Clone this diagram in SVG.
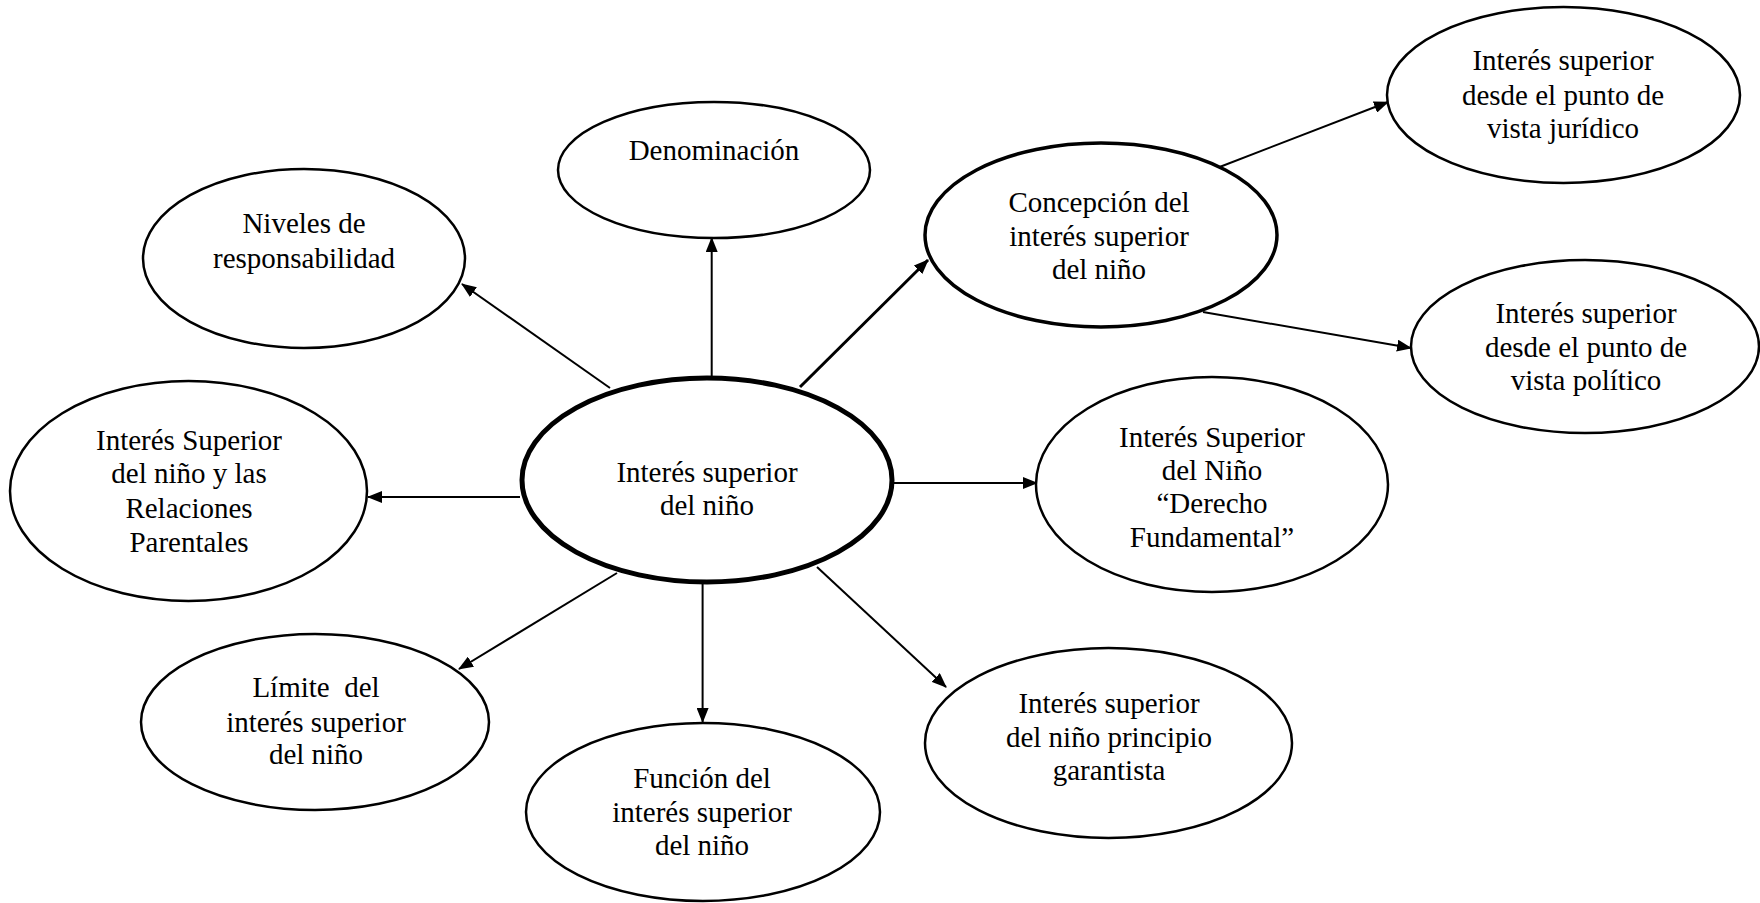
<svg xmlns="http://www.w3.org/2000/svg" width="1760" height="903" viewBox="0 0 1760 903">
<style>
.n{fill:#fff;stroke:#000;stroke-width:2.5}
.t{font-family:"Liberation Serif","Times New Roman",serif;font-size:29px;fill:#000;text-anchor:middle}
.c{stroke:#000;stroke-width:2;fill:none;marker-end:url(#ah)}
</style>
<defs>
<marker id="ah" markerUnits="userSpaceOnUse" markerWidth="15" markerHeight="12" refX="14" refY="6" orient="auto">
<path d="M0,0 L15,6 L0,12 z" fill="#000"/>
</marker>
</defs>
<rect width="1760" height="903" fill="#fff"/>
<g id="connectors">
<line class="c" x1="711.7" y1="377" x2="711.7" y2="238"/>
<line class="c" x1="610" y1="388" x2="462" y2="284"/>
<line class="c" x1="800" y1="387" x2="928" y2="260" style="stroke-width:3"/>
<line class="c" x1="1217" y1="168" x2="1388" y2="102"/>
<line class="c" x1="1203" y1="312" x2="1411" y2="348"/>
<line class="c" x1="893" y1="483" x2="1037" y2="483"/>
<line class="c" x1="817" y1="567" x2="946" y2="687"/>
<line class="c" x1="702.6" y1="584" x2="702.6" y2="722"/>
<line class="c" x1="617" y1="573" x2="459" y2="669"/>
<line class="c" x1="520" y1="497" x2="368" y2="497"/>
</g>
<g id="center">
<ellipse class="n" cx="707" cy="480" rx="185" ry="102" style="stroke-width:5"/>
<text class="t"><tspan x="707" y="482">Interés superior</tspan><tspan x="707" y="515">del niño</tspan></text>
</g>
<g id="denominacion">
<ellipse class="n" cx="714" cy="170" rx="156" ry="68"/>
<text class="t"><tspan x="714" y="160">Denominación</tspan></text>
</g>
<g id="niveles">
<ellipse class="n" cx="304" cy="258.5" rx="161" ry="89.5"/>
<text class="t"><tspan x="304" y="233">Niveles de</tspan><tspan x="304" y="268">responsabilidad</tspan></text>
</g>
<g id="concepcion">
<ellipse class="n" cx="1101" cy="235" rx="176" ry="92" style="stroke-width:3.5"/>
<text class="t"><tspan x="1099" y="212">Concepción del</tspan><tspan x="1099" y="246">interés superior</tspan><tspan x="1099" y="279">del niño</tspan></text>
</g>
<g id="juridico">
<ellipse class="n" cx="1563.5" cy="95" rx="176.5" ry="88"/>
<text class="t"><tspan x="1563" y="70">Interés superior</tspan><tspan x="1563" y="105">desde el punto de</tspan><tspan x="1563" y="138">vista jurídico</tspan></text>
</g>
<g id="politico">
<ellipse class="n" cx="1585" cy="346.5" rx="174" ry="86.5"/>
<text class="t"><tspan x="1586" y="323">Interés superior</tspan><tspan x="1586" y="357">desde el punto de</tspan><tspan x="1586" y="390">vista político</tspan></text>
</g>
<g id="relaciones">
<ellipse class="n" cx="188.5" cy="491" rx="178.5" ry="110"/>
<text class="t"><tspan x="189" y="450">Interés Superior</tspan><tspan x="189" y="483">del niño y las</tspan><tspan x="189" y="518">Relaciones</tspan><tspan x="189" y="552">Parentales</tspan></text>
</g>
<g id="derecho">
<ellipse class="n" cx="1212" cy="484.5" rx="176" ry="107.5"/>
<text class="t"><tspan x="1212" y="447">Interés Superior</tspan><tspan x="1212" y="480">del Niño</tspan><tspan x="1212" y="513">“Derecho</tspan><tspan x="1212" y="547">Fundamental”</tspan></text>
</g>
<g id="limite">
<ellipse class="n" cx="315" cy="722" rx="174" ry="88"/>
<text class="t"><tspan x="316" y="697" xml:space="preserve">Límite  del</tspan><tspan x="316" y="732">interés superior</tspan><tspan x="316" y="764">del niño</tspan></text>
</g>
<g id="funcion">
<ellipse class="n" cx="703" cy="812" rx="177" ry="89"/>
<text class="t"><tspan x="702" y="788">Función del</tspan><tspan x="702" y="822">interés superior</tspan><tspan x="702" y="855">del niño</tspan></text>
</g>
<g id="garantista">
<ellipse class="n" cx="1108.5" cy="743" rx="183.5" ry="95"/>
<text class="t"><tspan x="1109" y="713">Interés superior</tspan><tspan x="1109" y="747">del niño principio</tspan><tspan x="1109" y="780">garantista</tspan></text>
</g>
</svg>
